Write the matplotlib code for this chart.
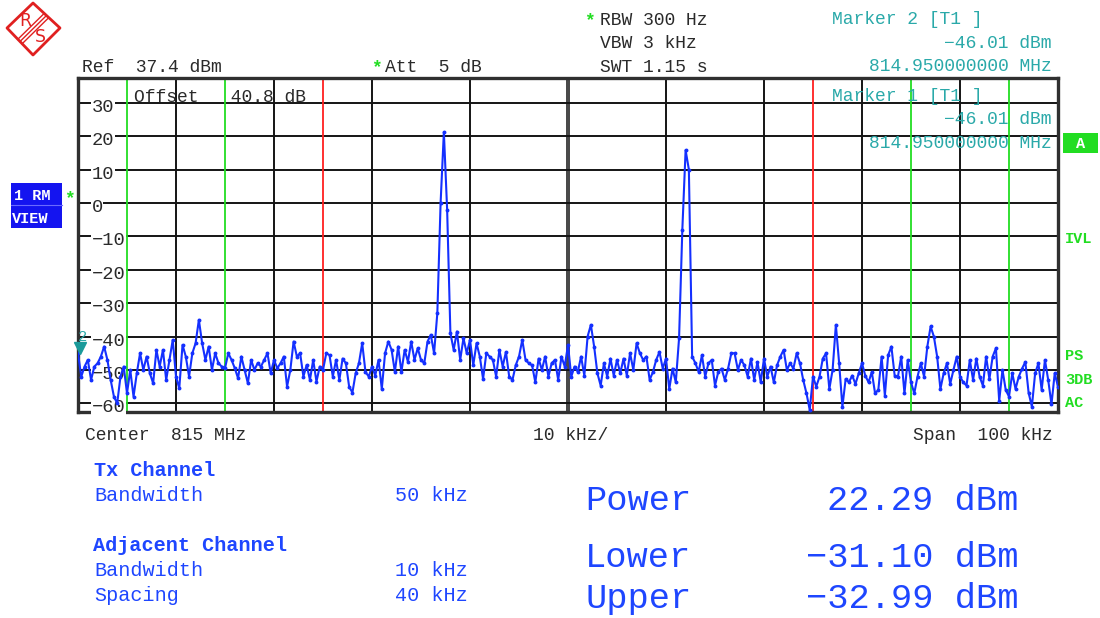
"""
Spectrum analyzer ACP screen (adjacent channel power)
"""

# ****** Modules ******
import numpy as np
import matplotlib
matplotlib.use('Agg')
import matplotlib.pyplot as plt
from matplotlib.patches import Rectangle, Polygon
from matplotlib import transforms

plt.rcParams['font.family'] = ['Liberation Mono', 'DejaVu Sans']

W, H = 1100, 618

# ****** Data ******
center_mhz = 815
span_khz = 100
ref_level = 37.4
offset_db = 40.8
att_db = 5

# sweep grid of the analyzer (301 points over the span)
freq_khz = np.linspace(-span_khz / 2, span_khz / 2, 301)

level_dbm = [
    -45, -52, -49, -47, -53, -49, -48, -46, -43, -47,
    -53, -58, -60, -52, -49, -57, -50, -58, -51, -45,
    -50, -46, -51, -54, -44, -49, -44, -53, -47, -41,
    -52, -55.5, -42.5, -46, -52, -45, -42, -35, -42, -47,
    -43, -50, -45, -48, -49, -49.5, -45, -47, -49.5, -52.5,
    -46, -50, -54, -47, -50, -48, -49, -47, -45, -51,
    -47, -49.5, -48, -46, -55, -50, -41.5, -46, -45, -52,
    -48.5, -53, -47, -53.5, -49, -50,
    -45, -45.6, -52, -47, -53, -46.6, -48, -55, -56.8, -51,
    -48, -42, -50.6, -52, -49, -51.7, -47, -55.7, -45, -41.5,
    -44, -50.6, -43, -50.6, -44, -47.6, -41.5, -47, -43.5, -47,
    -48, -41.5, -39.5, -45, -33, 0, 21.2, -2, -39, -44,
    -38.5, -47, -40.5, -45, -41, -48.6, -42, -46, -52.7, -45,
    -46, -47, -52, -44, -49, -44.6, -52, -53, -48.6, -46,
    -41, -47, -48, -48.6, -53.7, -46.6, -50, -46, -52, -48,
    -47, -53, -46, -49, -42.5,
    -52, -49, -50.6, -46, -51.7, -40, -36.5, -43, -51, -54.7,
    -48, -52, -46.6, -51.7, -47, -51, -46.6, -51.7, -45, -50,
    -42, -45, -47, -46, -53, -50.6, -47, -44.6, -49.6, -46.6,
    -55.7, -49.6, -53.7, -40.5, -8, 15.8, 10, -46, -48, -50.6,
    -45.6, -52, -48, -47, -54.7, -50.6, -49.6, -53, -49.6, -45,
    -45, -50, -47, -48.6, -52, -46.6, -53, -47.6, -53.7, -46.6,
    -52, -49, -53.7, -48.6, -46, -44, -50, -48, -49.6, -45,
    -48, -53, -57, -62, -52,
    -55, -52, -46.6, -45, -55.7, -50, -36.5, -48, -61, -52.7,
    -53.7, -51.7, -54.2, -51, -48, -51.7, -53.7, -50.6, -57, -56,
    -46, -57.7, -45.6, -43, -51.7, -52, -46, -57, -47, -53.7,
    -57, -52, -48, -52, -43, -37, -40, -46, -55.7, -51,
    -48, -54.2, -50, -46, -52, -53.7, -54.7, -47, -53, -46.6,
    -52, -54.7, -46, -52.7, -46, -43.5, -59.3, -50, -56, -58,
    -51, -55.7, -52, -49.6, -47.6, -56.8, -61, -51, -48, -56,
    -47, -53, -60.3, -51, -55,
]

y_ticks = [30, 20, 10, 0, -10, -20, -30, -40, -50, -60]
tx_edges_khz = [-25, 25]
adj_edges_khz = [-45, -35, 35, 45]

marker_khz = -50.0
marker_dbm = -46.01

tx_bw_khz = 50
adj_bw_khz = 10
adj_spacing_khz = 40
power_dbm = 22.29
lower_dbm = -31.10
upper_dbm = -32.99

# ****** Colours ******
C_TRACE = '#1430ff'
C_GREEN = '#22dd22'
C_RED = '#ff2020'
C_TEAL = '#2aa9a9'
C_BLUE_TXT = '#1e46ff'
C_GRID = '#141414'
C_TEXT = '#2a2a2a'


def minus(s):
    return s.replace('-', '\u2212')


# ****** Figure ******
fig = plt.figure(figsize=(W / 100, H / 100), dpi=100)
fig.patch.set_facecolor('white')

ax = fig.add_axes([78 / W, 1 - 412 / H, 980 / W, 334 / H], zorder=1)
ax.set_xlim(-span_khz / 2, span_khz / 2)
ax.set_ylim(ref_level - 100, ref_level)
ax.set_xticks([])
ax.set_yticks([])
for sp in ax.spines.values():
    sp.set_linewidth(2.4)
    sp.set_color('#303030')

# grid
for k in range(-40, 50, 10):
    if k == 0:
        ax.axvline(-0.15, color=C_GRID, lw=1.1, zorder=1)
        ax.axvline(0.15, color=C_GRID, lw=1.1, zorder=1)
    else:
        ax.axvline(k, color=C_GRID, lw=1.4, zorder=1)
for yt in y_ticks:
    ax.axhline(yt, color=C_GRID, lw=1.4, zorder=1)

# channel limits
for k in tx_edges_khz:
    ax.axvline(k, color=C_RED, lw=1.3, zorder=2)
for k in adj_edges_khz:
    ax.axvline(k, color=C_GREEN, lw=1.3, zorder=2)

# level labels inside the grid
for yt in y_ticks:
    ax.text(-48.6, yt - 1.4, minus(str(yt)), fontsize=13.5, color=C_TEXT,
            ha='left', va='center', zorder=3,
            bbox=dict(facecolor='white', edgecolor='none', pad=0.3))

# trace
ax.plot(freq_khz, level_dbm, color=C_TRACE, lw=1.5, marker='o', ms=1.8, zorder=4)

# marker 2
mk_tr = transforms.offset_copy(ax.transData, fig=fig, x=0, y=9, units='dots')
ax.plot(marker_khz + 0.25, marker_dbm, marker='v', ms=8, color='#1a9a9a',
        transform=mk_tr, clip_on=False, zorder=5)
lbl_tr = transforms.offset_copy(ax.transData, fig=fig, x=2, y=20, units='dots')
ax.text(marker_khz + 0.25, marker_dbm, '2', transform=lbl_tr, color=C_TEAL,
        fontsize=11, ha='center', va='center', zorder=5)

# ****** Overlay in pixel coordinates ******
ov = fig.add_axes([0, 0, 1, 1], zorder=5)
ov.set_xlim(0, W)
ov.set_ylim(H, 0)
ov.axis('off')
ov.patch.set_alpha(0)


def put(x, y, s, size=13, color=C_TEXT, ha='left', weight='normal'):
    ov.text(x, y, s, fontsize=size, color=color, ha=ha, va='baseline', fontweight=weight)


# logo
diamond = Polygon([[7, 28], [33, 3], [60, 28], [33, 55]], closed=True,
                  fill=False, edgecolor='#e02020', lw=2, joinstyle='round')
ov.add_patch(diamond)
for d in (-2.2, 0, 2.2):
    ov.plot([20 + d, 46.5 + d], [41.5 + d, 15.5 + d], color='#e02020', lw=1)
ov.text(25, 21, 'R', color='#e02020', fontsize=12.5, ha='center', va='center', family='DejaVu Sans')
ov.text(40, 37, 'S', color='#e02020', fontsize=12.5, ha='center', va='center', family='DejaVu Sans')

# header
put(82, 72, f'Ref  {ref_level} dBm')
put(371, 72, '*', color=C_GREEN, weight='bold')
put(385, 72, f'Att  {att_db} dB')
put(584, 25, '*', color=C_GREEN, weight='bold')
put(600, 25, 'RBW 300 Hz')
put(600, 48, 'VBW 3 kHz')
put(600, 72, 'SWT 1.15 s')

mk_level = minus(f'{marker_dbm:.2f} dBm')
mk_freq = f'{center_mhz + marker_khz / 1000:.9f} MHz'
put(832, 24, 'Marker 2 [T1 ]', color=C_TEAL)
put(1052, 48, mk_level, color=C_TEAL, ha='right')
put(1052, 71, mk_freq, color=C_TEAL, ha='right')
put(832, 101, 'Marker 1 [T1 ]', color=C_TEAL)
put(1052, 124, mk_level, color=C_TEAL, ha='right')
put(1052, 148, mk_freq, color=C_TEAL, ha='right')

put(134, 102, f'Offset   {offset_db} dB')

# left trace badge
ov.add_patch(Rectangle((11, 183), 51, 45, facecolor='#1414f0', edgecolor='none'))
ov.plot([11, 62], [205, 205], color='#6a6aff', lw=0.8)
put(14, 200, '1 RM', size=11, color='white', weight='bold')
put(12, 223, 'VIEW', size=11, color='white', weight='bold')
put(64, 203, '*', color=C_GREEN, weight='bold')

# right status labels
ov.add_patch(Rectangle((1063, 133), 35, 20, facecolor=C_GREEN, edgecolor='none'))
ov.text(1080.5, 144, 'A', fontsize=11, color='white', fontweight='bold', ha='center', va='center')
for y, s in [(243, 'IVL'), (360, 'PS'), (384, '3DB'), (407, 'AC')]:
    put(1065, y, s, size=11, color=C_GREEN, weight='bold')

# frequency axis annotation
put(85, 440, f'Center  {center_mhz} MHz')
put(533, 440, f'{span_khz // 10} kHz/')
put(1053, 440, f'Span  {span_khz} kHz', ha='right')

# channel settings table
put(94, 476, 'Tx Channel', size=14.5, color=C_BLUE_TXT, weight='bold')
put(94, 501, 'Bandwidth', size=14.5, color=C_BLUE_TXT)
put(395, 501, f'{tx_bw_khz} kHz', size=14.5, color=C_BLUE_TXT)
put(93, 551, 'Adjacent Channel', size=14.5, color=C_BLUE_TXT, weight='bold')
put(94, 576, 'Bandwidth', size=14.5, color=C_BLUE_TXT)
put(395, 576, f'{adj_bw_khz} kHz', size=14.5, color=C_BLUE_TXT)
put(94, 601, 'Spacing', size=14.5, color=C_BLUE_TXT)
put(395, 601, f'{adj_spacing_khz} kHz', size=14.5, color=C_BLUE_TXT)

# measured channel powers
for y, name, val in [(510, 'Power', power_dbm), (567, 'Lower', lower_dbm), (608, 'Upper', upper_dbm)]:
    put(585, y, name, size=25.5, color=C_BLUE_TXT)
    put(1018, y, minus(f'{val:.2f} dBm'), size=25.5, color=C_BLUE_TXT, ha='right')

fig.savefig('out.png', dpi=100)
